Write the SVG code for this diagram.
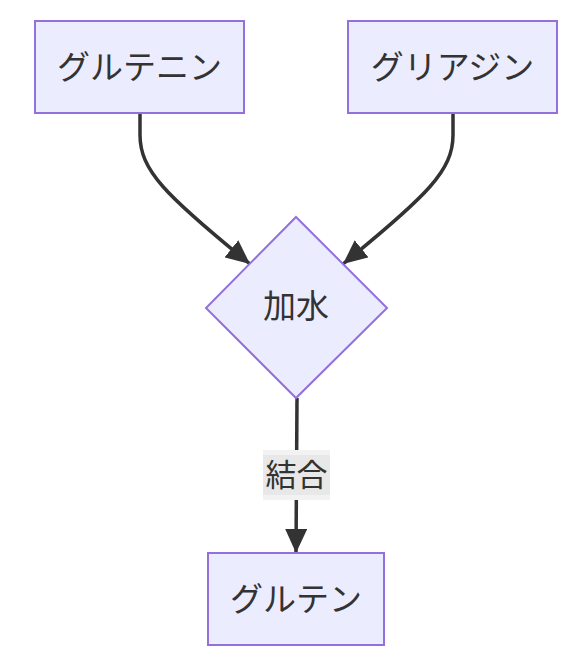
<svg xmlns="http://www.w3.org/2000/svg" width="583" height="663" viewBox="0 0 583 663">
<style>
.node{fill:#ECECFF;stroke:#9370DB;stroke-width:2}
.edge{fill:none;stroke:#333;stroke-width:3.5}
.lbl{font-family:"Noto Sans CJK JP","Noto Sans",sans-serif;font-size:33px;fill:#333;text-anchor:middle;dominant-baseline:central}
.elbl{font-family:"Noto Sans CJK JP","Noto Sans",sans-serif;font-size:31px;fill:#333;text-anchor:middle;dominant-baseline:central}
</style>
<defs>
<marker id="arrow" markerUnits="userSpaceOnUse" markerWidth="24" markerHeight="22" refX="24" refY="11" orient="auto">
<path d="M0,0 L24,11 L0,22 z" fill="#333"/>
</marker>
</defs>
<rect width="583" height="663" fill="#fff"/>
<g id="edges">
<path class="edge" d="M140,113 L140,135 C140,170 165,195 250,264" marker-end="url(#arrow)"/>
<path class="edge" d="M453,113 L453,135 C453,170 428,195 343,264" marker-end="url(#arrow)"/>
<path class="edge" d="M297,398 L296,553" marker-end="url(#arrow)"/>
<g id="edge-label">
<rect x="263" y="450" width="67" height="50" fill="#f2f2f2"/>
<rect x="263" y="455" width="67" height="40" fill="#e8e8e8"/>
<text class="elbl" x="296.5" y="472">結合</text>
</g>
</g>
<g id="glutenin">
<rect class="node" x="35" y="21" width="209" height="92"/>
<text class="lbl" x="139.5" y="65">グルテニン</text>
</g>
<g id="gliadin">
<rect class="node" x="348" y="21" width="209" height="92"/>
<text class="lbl" x="452.5" y="65">グリアジン</text>
</g>
<g id="water">
<polygon class="node" points="296,217 387,308 296,398 206,308"/>
<text class="lbl" x="296" y="304">加水</text>
</g>
<g id="gluten">
<rect class="node" x="208" y="553" width="176" height="92"/>
<text class="lbl" x="296" y="597">グルテン</text>
</g>
</svg>
